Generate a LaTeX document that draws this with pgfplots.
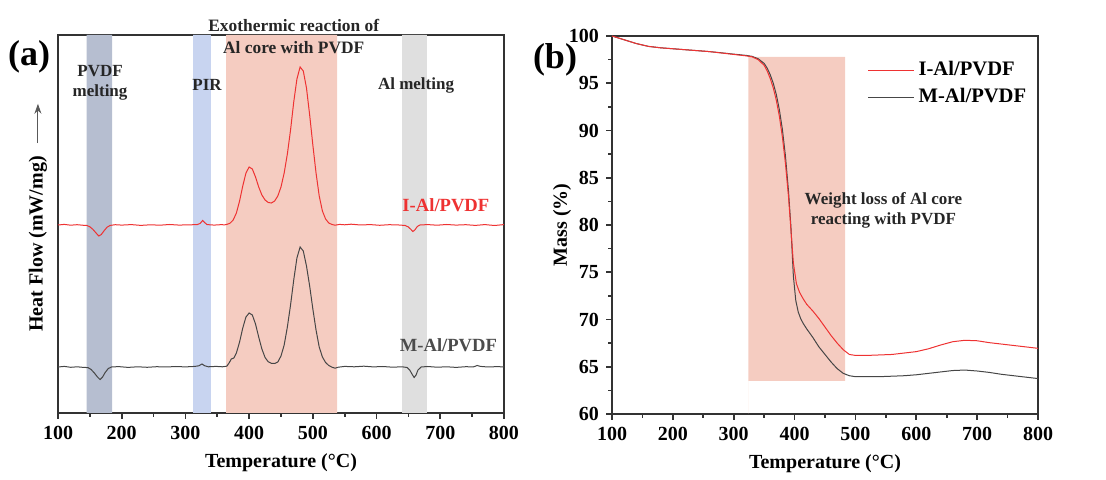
\documentclass[border=0pt]{standalone}
\usepackage{pgfplots}
\pgfplotsset{compat=1.18}
\usepackage{fontspec}
\setmainfont{Liberation Serif}
\usetikzlibrary{arrows.meta}

\definecolor{pvdfband}{RGB}{182,190,208}
\definecolor{pirband}{RGB}{200,212,240}
\definecolor{exoband}{RGB}{245,204,193}
\definecolor{almband}{RGB}{223,223,223}
\definecolor{curvered}{RGB}{238,50,50}
\definecolor{curvegray}{RGB}{70,70,70}

\pgfplotsset{
  panel/.style={
    scale only axis, height=189pt,
    xmin=100, xmax=800,
    xtick={100,200,...,800}, minor x tick num=1,
    xtick pos=bottom, tick align=outside,
    major tick length=3pt, minor tick length=2pt,
    axis line style={line width=0.8pt, black!80},
    every tick/.style={line width=0.8pt, black!80},
    tick label style={font=\fontsize{10}{11}\selectfont\bfseries},
    label style={font=\fontsize{10}{12}\selectfont\bfseries},
    /pgf/number format/assume math mode=true,
    xlabel={Temperature (°C)},
    clip=false,
  },
}
\tikzset{note/.style={font=\fontsize{8.5}{10}\selectfont\bfseries, align=center, text=black!85}}

\begin{document}
\begin{tikzpicture}
\path (0,0) rectangle (553pt,235pt);

% (a) DSC
\begin{axis}[panel, at={(29pt,28.5pt)}, anchor=south west, width=223pt,
  ymin=0, ymax=378, ytick=\empty]
\addplot[fill=pvdfband, draw=none, forget plot] coordinates {(145,0) (185,0) (185,378) (145,378)} \closedcycle;
\addplot[fill=pirband, draw=none, forget plot] coordinates {(312,0) (340,0) (340,378) (312,378)} \closedcycle;
\addplot[fill=exoband, draw=none, forget plot] coordinates {(364,0) (538,0) (538,378) (364,378)} \closedcycle;
\addplot[fill=almband, draw=none, forget plot] coordinates {(640,0) (679,0) (679,378) (640,378)} \closedcycle;

% I-Al/PVDF
\addplot[curvered, line width=0.5pt] coordinates {
(100,188) (110,188.6) (120,187.8) (130,188.3) (140,187.7) (145,187.6) (150,186.2) (155,183.5)
(160,179.8) (164,177) (168,178.5) (172,182) (177,185.8) (182,187.6) (190,188.3) (200,187.9)
(215,188.4) (230,187.6) (245,188.2) (260,187.8) (275,188.5) (290,187.9) (305,188.2) (318,188.3)
(323,189.5) (327,192.5) (330,190.5) (334,188.4) (345,187.9) (355,188.3) (362,188.2) (366,188.8)
(370,189.8) (375,193) (380,200) (385,212) (390,227) (395,240) (400,246) (405,244) (410,236)
(415,226) (420,218) (425,213) (430,210.5) (435,210) (440,212) (445,217) (450,226) (455,240)
(460,259) (465,283) (470,311) (475,334) (480,346) (485,342) (490,325) (495,298) (500,268)
(505,240) (510,217) (515,202) (520,194) (525,190) (530,188.5) (535,187.8) (542,188.6)
(550,188.2) (560,188.8) (575,188) (590,188.4) (605,187.7) (620,188.3) (635,188) (645,187.5)
(650,186) (654,183.5) (657,181.5) (660,183) (664,186.5) (668,188) (680,188.4) (695,187.8)
(710,188.5) (725,187.9) (740,188.3) (755,187.6) (770,188.4) (785,187.5) (800,188.4)
};
% M-Al/PVDF
\addplot[curvegray, line width=0.5pt] coordinates {
(100,46) (110,46.6) (120,45.7) (130,46.2) (140,45.6) (147,45.4) (152,43.5) (157,40) (162,36)
(166,33.5) (170,36) (174,40.5) (179,44.5) (184,46) (195,46.4) (210,45.6) (225,46.2) (240,45.7)
(255,46.3) (270,46) (285,46.5) (300,46.1) (315,46.6) (321,47.2) (326,49) (330,47.3) (336,46.2)
(348,46.6) (358,46.2) (365,46.8) (369,50.5) (372,54) (376,55) (380,60) (385,71) (390,85)
(395,96) (400,100) (405,98) (410,89) (415,76) (420,64) (425,55.5) (430,51.2) (435,49.6)
(440,49.5) (445,51) (450,57) (455,68) (460,86) (465,108) (470,133) (475,155) (480,166)
(485,162) (490,147) (495,127) (500,104) (505,83) (510,66) (515,56) (520,50.5) (525,47.5)
(530,45.8) (535,44.8) (540,45.8) (550,46.6) (565,46.2) (580,46.8) (595,46.1) (610,46.5)
(625,45.8) (640,46.2) (648,45.5) (652,43) (656,38.5) (659,35.5) (662,38) (665,43) (670,46)
(680,46.5) (695,45.8) (710,46.2) (725,45.6) (740,46.3) (752,46.1) (758,47.5) (763,46.6)
(775,46) (790,46.4) (800,46)
};

\node[note, font=\fontsize{8.7}{11}\selectfont\bfseries] at (axis cs:470,376) {Exothermic reaction of\\Al core with PVDF};
\node[note] at (axis cs:166,330) {PVDF\\melting};
\node[note] at (axis cs:334,328) {PIR};
\node[note] at (axis cs:662,328) {Al melting};
\node[anchor=east, text=curvered, font=\fontsize{9.3}{11}\selectfont\bfseries] at (axis cs:788,208) {I-Al/PVDF};
\node[anchor=east, text=black!70, font=\fontsize{9.3}{11}\selectfont\bfseries] at (axis cs:800,68) {M-Al/PVDF};

\node[rotate=90, font=\fontsize{10}{12}\selectfont\bfseries] at (rel axis cs:-0.045,0.447) {Heat Flow (mW/mg)};
\draw[-{Stealth[length=5pt,width=3.5pt]}, black!65, line width=0.5pt] (rel axis cs:-0.045,0.714) -- (rel axis cs:-0.045,0.818);
\end{axis}

% (b) TGA
\begin{axis}[panel, at={(306pt,28pt)}, anchor=south west, width=213pt,
  ymin=60, ymax=100, ytick={60,65,...,100}, minor y tick num=1, ytick pos=left,
  ylabel={Mass (\%)}, ylabel shift=-8pt,
  legend style={at={(0.585,0.955)}, anchor=north west, draw=none, fill=none,
    font=\fontsize{10.3}{12}\selectfont\bfseries, row sep=1pt},
  legend cell align=left,
  legend image code/.code={\draw[#1] (0pt,0pt) -- (23pt,0pt);}]
\addplot[fill=exoband, draw=none, forget plot] coordinates {(324,63.5) (483,63.5) (483,97.8) (324,97.8)} \closedcycle;

\addplot[curvegray, line width=0.5pt, forget plot] coordinates {
(100,100) (120,99.6) (140,99.2) (160,98.9) (180,98.75) (200,98.65) (220,98.55) (240,98.45)
(260,98.35) (280,98.22) (300,98.08) (320,97.95) (330,97.85) (340,97.6) (350,97.1) (355,96.6)
(360,95.9) (365,95.0) (370,93.8) (375,92.2) (380,90.1) (385,87.3) (390,83.6) (394,79.8)
(398,74.6) (402,72.0) (406,70.8) (410,70.1) (414,69.6) (420,69.0) (430,68.1) (440,67.1)
(450,66.3) (460,65.5) (470,64.8) (480,64.3) (490,64.05) (500,63.95) (520,63.95) (540,63.95)
(560,64.0) (580,64.05) (600,64.15) (620,64.3) (640,64.45) (660,64.6) (680,64.65) (700,64.55)
(720,64.4) (740,64.2) (760,64.05) (780,63.9) (800,63.75)
};
\addplot[curvered, line width=0.5pt] coordinates {
(100,100) (120,99.6) (140,99.2) (160,98.9) (180,98.75) (200,98.65) (220,98.55) (240,98.45)
(260,98.35) (280,98.2) (300,98.05) (320,97.9) (330,97.8) (340,97.5) (350,96.9) (355,96.3)
(360,95.5) (365,94.5) (370,93.2) (375,91.5) (380,89.3) (385,86.5) (390,83) (394,79.5)
(398,76) (403,73.8) (408,72.9) (414,72.2) (420,71.6) (430,70.9) (440,70.1) (450,69.2)
(460,68.3) (470,67.5) (480,66.8) (490,66.3) (500,66.2) (520,66.2) (540,66.25) (560,66.3)
(580,66.45) (600,66.6) (620,66.9) (640,67.3) (660,67.65) (680,67.8) (700,67.75) (720,67.55)
(740,67.4) (760,67.25) (780,67.1) (800,66.95)
};
\addlegendentry{I-Al/PVDF}
\addlegendimage{curvegray, line width=0.5pt}
\addlegendentry{M-Al/PVDF}

\node[note] at (axis cs:546,81.5) {Weight loss of Al core\\reacting with PVDF};
\end{axis}

\node[font=\fontsize{18}{20}\selectfont\bfseries] at (14.5pt,206.5pt) {(a)};
\node[font=\fontsize{18}{20}\selectfont\bfseries] at (277.5pt,205pt) {(b)};
\end{tikzpicture}
\end{document}
